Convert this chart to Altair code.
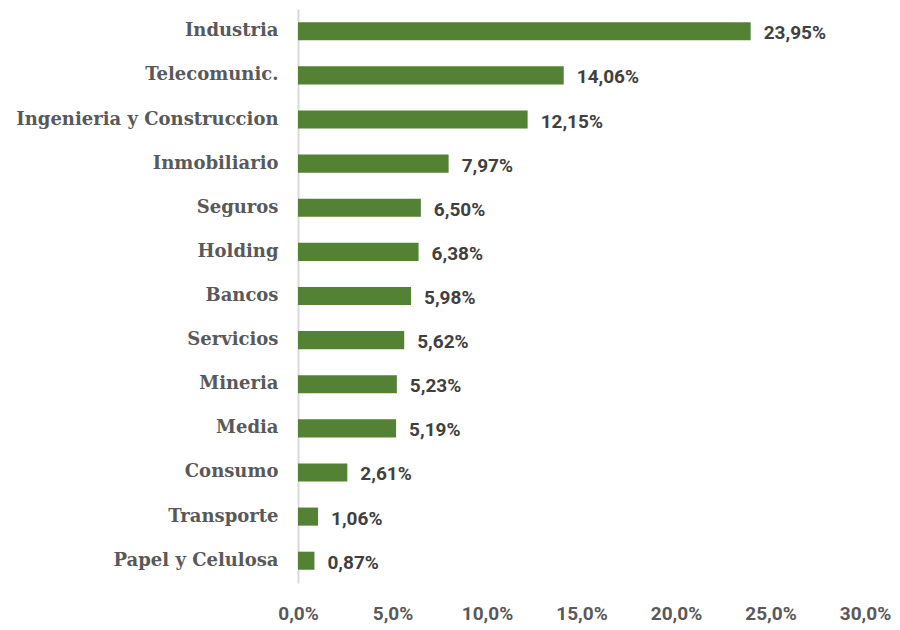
import altair as alt
import pandas as pd

categories = ["Industria", "Telecomunic.", "Ingenieria y Construccion ", "Inmobiliario", "Seguros",
              "Holding", "Bancos", "Servicios", "Mineria", "Media", "Consumo", "Transporte",
              "Papel y Celulosa"]
values = [23.95, 14.06, 12.15, 7.97, 6.50, 6.38, 5.98, 5.62, 5.23, 5.19, 2.61, 1.06, 0.87]
x_ticks = [0, 5, 10, 15, 20, 25, 30]

df = pd.DataFrame({"cat": categories, "val": values})

base = alt.Chart(df).encode(
    y=alt.Y("cat:N", sort=categories, title=None,
            scale=alt.Scale(paddingInner=0.59, paddingOuter=0.3),
            axis=alt.Axis(labelFont="DejaVu Serif", labelFontWeight="bold", labelFontSize=18,
                          labelColor="#595959", labelPadding=20, ticks=False,
                          domainColor="#d9d9d9", domainWidth=2, labelLimit=400)),
    x=alt.X("val:Q", title=None,
            scale=alt.Scale(domain=[0, 30], nice=False),
            axis=alt.Axis(values=x_ticks, grid=False, ticks=False, domain=False,
                          labelFont="Roboto", labelFontWeight="bold", labelFontSize=19,
                          labelColor="#595959", labelPadding=21, labelFlush=False,
                          labelExpr="replace(format(datum.value, '.1f'), '.', ',') + '%'")),
)

bars = base.mark_bar(color="#548235")
labels = base.mark_text(align="left", baseline="middle", dx=13, dy=2, font="Roboto",
                        fontWeight="bold", fontSize=19, color="#404040").encode(
    text=alt.Text("lab:N")
).transform_calculate(lab="replace(format(datum.val, '.2f'), '.', ',') + '%'")

chart = (bars + labels).properties(
    width=567, height=574,
    autosize=alt.AutoSizeParams(type="none"),
    padding={"left": 290, "top": 1, "right": 27, "bottom": 45},
).configure_view(stroke=None)

chart.save("out.html", embed_options={"renderer": "svg", "actions": False})
